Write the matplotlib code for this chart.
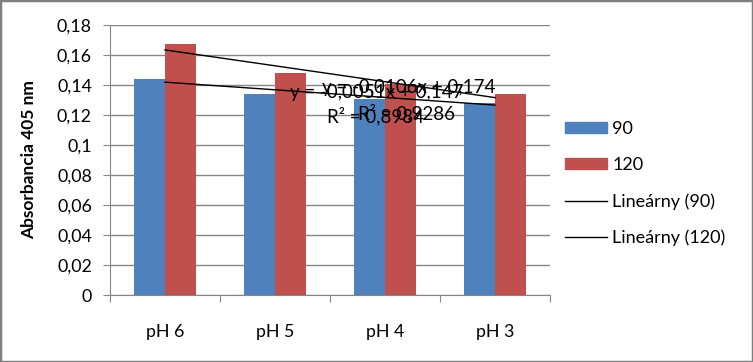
import matplotlib
matplotlib.use("Agg")
import matplotlib.pyplot as plt
from matplotlib.patches import Patch, Rectangle
from matplotlib.lines import Line2D
from matplotlib.ticker import FuncFormatter, FixedLocator

plt.rcParams['font.family'] = ['Lato', 'DejaVu Sans']

# --- data ---
categorias = ['pH 6', 'pH 5', 'pH 4', 'pH 3']
abs_90 = [0.144, 0.134, 0.131, 0.128]
abs_120 = [0.167, 0.148, 0.141, 0.134]
series = ['90', '120']

# trendline coefficients as printed on the chart
tend_90 = (-0.0051, 0.147, 0.8984)
tend_120 = (-0.0106, 0.174, 0.9286)

azul = '#4F81BD'
rojo = '#C0504D'
gris = '#868686'

fig = plt.figure(figsize=(7.53, 3.62), dpi=100)
ax = fig.add_axes([110/753, 67/362, 440/753, 270/362])

x = list(range(len(categorias)))
w = 31.4 / 110
ax.bar([i - w/2 for i in x], abs_90, width=w, color=azul, zorder=2)
ax.bar([i + w/2 for i in x], abs_120, width=w, color=rojo, zorder=2)

# linear trendlines (Excel x = 1..n)
for a, b, _ in (tend_90, tend_120):
    ax.plot(x, [a * (i + 1) + b for i in x], color='black', lw=1, zorder=3)

ax.set_xlim(-0.5, 3.5)
ax.set_ylim(0, 0.18)
ax.set_yticks([i * 0.02 for i in range(10)])
ax.yaxis.set_major_formatter(FuncFormatter(
    lambda v, p: '0' if abs(v) < 1e-9 else f'{v:.2f}'.rstrip('0').replace('.', ',')))
ax.grid(axis='y', color=gris, lw=1, zorder=0)

ax.xaxis.set_major_locator(FixedLocator([-0.5, 0.5, 1.5, 2.5, 3.5]))
ax.xaxis.set_major_formatter(FuncFormatter(lambda v, p: ''))
ax.xaxis.set_minor_locator(FixedLocator(x))
ax.set_xticklabels(categorias, minor=True)
ax.tick_params(axis='x', which='major', length=5, color=gris, direction='out')
ax.tick_params(axis='x', which='minor', length=0, pad=21, labelsize=12.8)
ax.tick_params(axis='y', length=5, color=gris, direction='out', pad=8, labelsize=12.8)

for s in ['top', 'right']:
    ax.spines[s].set_visible(False)
for s in ['left', 'bottom']:
    ax.spines[s].set_color(gris)

ax.set_ylabel('Absorbancia 405 nm', fontsize=12.5, fontweight='bold', labelpad=14)

# trendline equations
eq_fs = 13.5
ax.text(1.136, 0.1347, 'y = -0,0051x + 0,147', fontsize=eq_fs, va='center', zorder=4)
ax.text(1.427, 0.138, 'y = -0,0106x + 0,174', fontsize=eq_fs, va='center', zorder=4)
ax.text(1.473, 0.1193, 'R² = 0,8984', fontsize=eq_fs, va='center', zorder=4)
ax.text(1.755, 0.1213, 'R² = 0,9286', fontsize=eq_fs, va='center', zorder=4)

handles = [Patch(color=azul, label=series[0]),
           Patch(color=rojo, label=series[1]),
           Line2D([], [], color='black', lw=1, label='Lineárny (90)'),
           Line2D([], [], color='black', lw=1, label='Lineárny (120)')]
fig.legend(handles=handles, loc='upper left', bbox_to_anchor=(558/753, 1 - 114/362),
           frameon=False, fontsize=13, labelspacing=1.1, handlelength=2.3,
           handleheight=0.55, handletextpad=0.3, borderaxespad=0)

fig.patches.append(Rectangle((0, 0), 1, 1, transform=fig.transFigure,
                             fill=False, edgecolor='#7F7F7F', lw=2.5))

fig.savefig('out.png', dpi=100)
